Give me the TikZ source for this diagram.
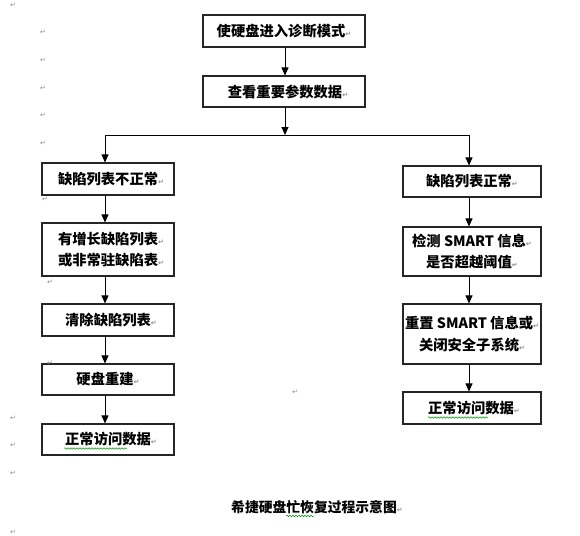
\documentclass[tikz,border=0pt]{standalone}
\usepackage{fontspec}
\setmainfont{Noto Sans CJK SC}
\newfontfamily\dvfont{DejaVu Sans}
\usetikzlibrary{arrows.meta,decorations.pathmorphing}
\newcommand{\rmk}{{\dvfont\fontsize{7}{7}\selectfont\color{black!45}\char"21B5}}
\begin{document}
\begin{tikzpicture}[x=1pt,y=-1pt,
  box/.style={draw=black!85,line width=1.1pt,rectangle,inner sep=0pt,
    font=\bfseries\fontsize{14.3}{21.5}\selectfont,align=center},
  lbox/.style={box,minimum width=132pt},
  rbox/.style={box,minimum width=138pt},
  arr/.style={line width=0.9pt,-{Triangle[length=8pt,width=7pt]}},
  ln/.style={line width=0.9pt},
  squig/.style={draw=green!60!black,line width=0.5pt,decorate,
    decoration={snake,amplitude=0.8pt,segment length=3pt}},
  pmark/.style={inner sep=0pt}]
\useasboundingbox (0,0) rectangle (580,535);
% top
\node[box,minimum width=162pt,minimum height=32pt] (t1) at (284,31) {使硬盘进入诊断模式\rmk};
\node[box,minimum width=162pt,minimum height=31pt] (t2) at (284,91.5) {\hspace{8pt}查看重要参数数据\rmk};
\coordinate (hj) at (285,135);
\coordinate (hl) at (105,135);
\coordinate (hr) at (469,135);
% left column
\node[lbox,minimum height=32pt] (l1) at (108,179) {\hspace{6pt}缺陷列表不正常\rmk};
\node[lbox,minimum height=53pt] (l2) at (108,249.5) {\hspace{6pt}有增长缺陷列表\rmk\\\hspace{6pt}或非常驻缺陷表\rmk};
\node[lbox,minimum height=32pt] (l3) at (108,320) {\hspace{6pt}清除缺陷列表\rmk};
\node[lbox,minimum height=31pt] (l4) at (108,379.5) {硬盘重建\rmk};
\node[lbox,minimum height=31pt] (l5) at (108,439.5) {\hspace{6pt}正常访问数据\rmk};
% right column
\node[rbox,minimum height=31pt] (r1) at (472,181.5) {缺陷列表正常\rmk};
\node[rbox,minimum height=49pt] (r2) at (472,251.5) {检测 SMART 信息\rmk\\是否超越阈值\rmk};
\node[rbox,minimum height=60pt] (r3) at (472,334) {重置 SMART 信息或\rmk\\关闭安全子系统\rmk};
\node[rbox,minimum height=32pt] (r4) at (472,408) {\hspace{4pt}正常访问数据\rmk};
% connectors
\draw[arr] ([xshift=1pt]t1.south) -- ([xshift=1pt]t2.north);
\draw[arr] ([xshift=1pt]t2.south) -- (hj);
\draw[ln] (hl) -- (hr);
\draw[arr] (hl) -- ([xshift=-3pt]l1.north);
\draw[arr] (hr) -- ([xshift=-3pt]r1.north);
\draw[arr] ([xshift=-3pt]l1.south) -- ([xshift=-3pt]l2.north);
\draw[arr] ([xshift=-3pt]l2.south) -- ([xshift=-3pt]l3.north);
\draw[arr] ([xshift=-3pt]l3.south) -- ([xshift=-3pt]l4.north);
\draw[arr] ([xshift=-3pt]l4.south) -- ([xshift=-3pt]l5.north);
\draw[arr] ([xshift=-3pt]r1.south) -- ([xshift=-3pt]r2.north);
\draw[arr] ([xshift=-3pt]r2.south) -- ([xshift=-3pt]r3.north);
\draw[arr] ([xshift=-3pt]r3.south) -- ([xshift=-3pt]r4.north);
% caption
\node[font=\bfseries\fontsize{13.8}{15}\selectfont,anchor=west,inner sep=0pt] (cap) at (231,507) {希捷硬盘忙恢复过程示意图\rmk};
% spell-check squiggles
\draw[squig] (64,448.5) -- (127,448.5);
\draw[squig] (428,417.5) -- (488,417.5);
\draw[squig] (286,516) -- (314,516);
% paragraph marks
\foreach \p [count=\i] in {(13,5),(43,32),(43,60),(43,88),(43,115),(43,143),(45,199),(50,282),(50,363),(13,418),(13,445),(13,473),(13,532),(295,392)}
  \node[pmark] (pm\i) at \p {\rmk};
\end{tikzpicture}
\end{document}
